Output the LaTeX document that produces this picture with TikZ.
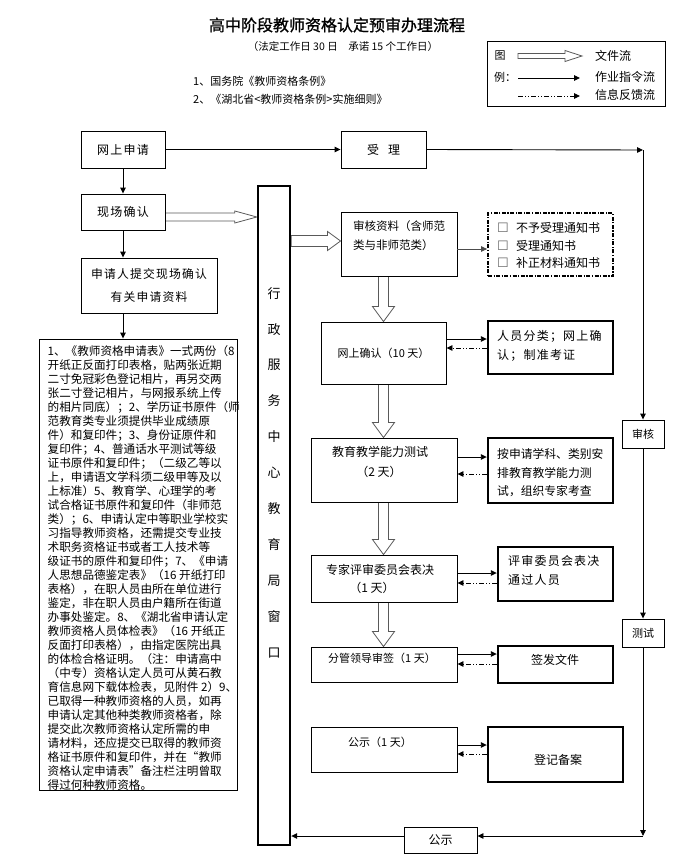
\documentclass[tikz,border=0pt]{standalone}
\usepackage{fontspec}
\setmainfont{Noto Sans CJK SC}
\newfontfamily\titlefont[FakeBold=1.2]{Noto Sans CJK SC}
\newfontfamily\spaced[LetterSpace=10]{Noto Sans CJK SC}
\newfontfamily\dejavu{DejaVu Sans}
\usetikzlibrary{arrows.meta,calc}
\pgfdeclarelayer{bg}
\pgfsetlayers{bg,main}
\newcommand\fs[1]{\fontsize{#1}{#1}\selectfont}
% hollow arrow pointing right: start, end, shaft half, head half, head length
\newcommand\harr[5]{\begin{pgfonlayer}{bg}\draw[hol] let \p1=#1, \p2=#2 in (\x1,\y1+#3) -- (\x2-#5,\y1+#3) -- (\x2-#5,\y1+#4) -- (\x2,\y1) -- (\x2-#5,\y1-#4) -- (\x2-#5,\y1-#3) -- (\x1,\y1-#3) -- cycle;\end{pgfonlayer}}
% hollow arrow pointing down
\newcommand\varr[5]{\begin{pgfonlayer}{bg}\draw[hol] let \p1=#1, \p2=#2 in (\x1-#3,\y1) -- (\x1-#3,\y2+#5) -- (\x1-#4,\y2+#5) -- (\x1,\y2) -- (\x1+#4,\y2+#5) -- (\x1+#3,\y2+#5) -- (\x1+#3,\y1) -- cycle;\end{pgfonlayer}}
\tikzset{
  box/.style={draw, line width=0.9pt, inner sep=0pt, align=center},
  tbox/.style={draw, line width=2.4pt, inner sep=0pt, align=center},
  arr/.style={line width=0.9pt, -{Triangle[length=6pt,width=5.5pt]}},
  fb/.style={line width=0.9pt, dash pattern=on 5pt off 2pt on 1pt off 2pt on 1pt off 2pt, -{Triangle[length=6pt,width=5.5pt]}},
  hol/.style={draw=black!65, fill=white, line width=0.8pt, line join=miter},
  lbl/.style={inner sep=0pt},
}
\begin{document}
\begin{tikzpicture}[x=1pt,y=-1pt]
\useasboundingbox (0,0) rectangle (685,862);
% titles
\node[lbl, font=\titlefont\fs{16}] (title) at (337,25) {高中阶段教师资格认定预审办理流程};
\node[lbl, font=\fs{10.5}] (sub) at (343,47) {（法定工作日 30 日\quad 承诺 15 个工作日）};
\node[lbl, anchor=west, font=\fs{11}] (ref1) at (193,81) {1、国务院《教师资格条例》};
\node[lbl, anchor=west, font=\fs{11}] (ref2) at (193,99) {2、《湖北省<教师资格条例>实施细则》};
% legend
\node[draw, line width=0.9pt, minimum width=178pt, minimum height=65pt, inner sep=0pt] (legend) at (576,73.5) {};
\node[lbl, font=\fs{11}] (lg1) at (500,56) {图};
\node[lbl, anchor=west, font=\fs{11}] (lg2) at (494,77) {例：};
\coordinate (l1a) at (518,56); \coordinate (l1b) at (582,56);
\harr{(l1a)}{(l1b)}{2.5pt}{5.5pt}{17pt}
\node[lbl, anchor=west, font=\fs{12}] (lt1) at (595,56) {文件流};
\coordinate (l2a) at (518,78); \coordinate (l2b) at (580,78);
\draw[arr] (l2a) -- (l2b);
\node[lbl, anchor=west, font=\fs{12}] (lt2) at (595,77) {作业指令流};
\coordinate (l3a) at (518,96); \coordinate (l3b) at (580,96);
\draw[fb] (l3a) -- (l3b);
\node[lbl, anchor=west, font=\fs{12}] (lt3) at (595,95) {信息反馈流};
% left column
\node[box, minimum width=84pt, minimum height=37pt, font=\spaced\fs{12}] (web) at (123,149.5) {网上申请};
\node[box, minimum width=85pt, minimum height=37pt, font=\fs{12}] (accept) at (383.5,149.5) {受\hspace{9pt}理};
\node[box, minimum width=84pt, minimum height=36pt, font=\spaced\fs{12}] (site) at (123,212) {现场确认};
\node[box, minimum width=136pt, minimum height=55pt, font=\spaced\fontsize{11.8}{23}\selectfont] (submit) at (149,285.5) {申请人提交现场确认\\有关申请资料};
\node[box, minimum width=198pt, minimum height=451pt] (big) at (138,564.5) {};
\node[lbl, anchor=north west, align=left, font=\fontsize{11.6}{14}\selectfont] (bigtext) at (47.5,345) {1、《教师资格申请表》一式两份（8\\开纸正反面打印表格，贴两张近期\\二寸免冠彩色登记相片，再另交两\\张二寸登记相片，与网报系统上传\\的相片同底）；2、学历证书原件（师\\范教育类专业须提供毕业成绩原\\件）和复印件；3、身份证原件和\\复印件；4、普通话水平测试等级\\证书原件和复印件；（二级乙等以\\上，申请语文学科须二级甲等及以\\上标准）5、教育学、心理学的考\\试合格证书原件和复印件（非师范\\类）；6、申请认定中等职业学校实\\习指导教师资格，还需提交专业技\\术职务资格证书或者工人技术等\\级证书的原件和复印件；7、《申请\\人思想品德鉴定表》（16 开纸打印\\表格），在职人员由所在单位进行\\鉴定，非在职人员由户籍所在街道\\办事处鉴定。8、《湖北省申请认定\\教师资格人员体检表》（16 开纸正\\反面打印表格），由指定医院出具\\的体检合格证明。（注：申请高中\\（中专）资格认定人员可从黄石教\\育信息网下载体检表，见附件 2）9、\\已取得一种教师资格的人员，如再\\申请认定其他种类教师资格者，除\\提交此次教师资格认定所需的申\\请材料，还应提交已取得的教师资\\格证书原件和复印件，并在“教师\\资格认定申请表”备注栏注明曾取\\得过何种教师资格。};
% service column
\node[draw, line width=2.4pt, minimum width=32pt, minimum height=659pt, inner sep=0pt] (col) at (274,515.5) {};
\node[lbl, align=center, font=\fontsize{13}{35.9}\selectfont] (coltext) at (274,472.5) {行\\政\\服\\务\\中\\心\\教\\育\\局\\窗\\口};
% middle column
\node[box, minimum width=116pt, minimum height=64pt] (review) at (399,244) {};
\node[lbl, anchor=west, font=\fs{11.5}] (rv1) at (353,226) {审核资料（含师范};
\node[lbl, anchor=west, font=\fs{11.5}] (rv2) at (353,245) {类与非师范类）};
\node[box, minimum width=125pt, minimum height=62pt, font=\fs{11}] (online) at (383.5,353) {网上确认（10 天）};
\node[box, minimum width=146pt, minimum height=64pt] (test) at (384,470) {};
\node[lbl, font=\fs{12}] (ts1) at (380,452) {教育教学能力测试};
\node[lbl, font=\fs{12}] (ts2) at (379,472) {（2 天）};
\node[box, minimum width=146pt, minimum height=47pt] (expert) at (384,578.5) {};
\node[lbl, font=\fs{12}] (ex1) at (380,570) {专家评审委员会表决};
\node[lbl, font=\fs{12}] (ex2) at (372,588) {（1 天）};
\node[box, minimum width=146pt, minimum height=35pt] (sign) at (384,664.5) {};
\node[lbl, font=\fs{11}] (sg1) at (382,658) {分管领导审签（1 天）};
\node[box, minimum width=146pt, minimum height=45pt] (pub1) at (384,749.5) {};
\node[lbl, font=\fs{11}] (pb1) at (380,742) {公示（1 天）};
% right boxes
\node[draw, line width=1.8pt, dash pattern=on 4pt off 1.5pt on 1.2pt off 1.5pt, minimum width=125pt, minimum height=63pt, inner sep=0pt] (notice) at (550.5,244.5) {};
\node[lbl, font=\dejavu\fs{13}, text=black!60] (cb1) at (503,228) {☐};
\node[lbl, font=\dejavu\fs{13}, text=black!60] (cb2) at (503,245.5) {☐};
\node[lbl, font=\dejavu\fs{13}, text=black!60] (cb3) at (503,263) {☐};
\node[lbl, anchor=west, font=\fs{12}] (nt1) at (516,228) {不予受理通知书};
\node[lbl, anchor=west, font=\fs{12}] (nt2) at (516,245.5) {受理通知书};
\node[lbl, anchor=west, font=\fs{12}] (nt3) at (516,263) {补正材料通知书};
\node[tbox, minimum width=125pt, minimum height=53pt] (classify) at (550.5,347.5) {};
\node[lbl, anchor=west, font=\spaced\fs{12}] (cl1) at (497,336) {人员分类；网上确};
\node[lbl, anchor=west, font=\spaced\fs{12}] (cl2) at (497,355) {认；制准考证};
\node[tbox, minimum width=125pt, minimum height=65pt] (arrange) at (550.5,470.5) {};
\node[lbl, anchor=west, font=\fs{11.8}] (ar1) at (497,454) {按申请学科、类别安};
\node[lbl, anchor=west, font=\fs{11.8}] (ar2) at (497,473) {排教育教学能力测};
\node[lbl, anchor=west, font=\fs{11.8}] (ar3) at (497,491) {试，组织专家考查};
\node[tbox, minimum width=115pt, minimum height=54pt] (passed) at (555.5,574) {};
\node[lbl, anchor=west, font=\spaced\fs{12}] (ps1) at (508,561) {评审委员会表决};
\node[lbl, anchor=west, font=\spaced\fs{12}] (ps2) at (508,580) {通过人员};
\node[tbox, minimum width=115pt, minimum height=37pt] (issue) at (555.5,664.5) {};
\node[lbl, font=\fs{12}] (is1) at (555,660) {签发文件};
\node[tbox, minimum width=135pt, minimum height=55pt] (record) at (555.5,754.5) {};
\node[lbl, font=\fs{12}] (rc1) at (558,760) {登记备案};
% far right
\node[box, minimum width=42pt, minimum height=28pt, font=\fs{11}] (check) at (643,434) {审核};
\node[box, minimum width=42pt, minimum height=28pt, font=\fs{11}] (test2) at (643,633) {测试};
\node[box, minimum width=73pt, minimum height=26pt, font=\fs{12}] (pub2) at (440.5,840) {公示};
\coordinate (c1) at (643,150);
\coordinate (c2) at (643,836);
% connectors
\draw[arr] (web) -- (accept);
\draw[arr] (accept.east) -- (c1);
\draw[arr] (c1) -- (check.north);
\draw[arr] (check) -- (test2);
\draw[arr] (test2.south) -- (c2);
\draw[arr] (c2) -- (pub2.east |- c2);
\draw[arr] (pub2.west |- c2) -- (col.east |- c2);
\draw[arr] (web) -- (site);
\draw[arr] (site) -- (site |- submit.north);
\draw[arr] (site.south |- submit.south) -- (site.south |- big.north);
\harr{($(site.east)+(0,5)$)}{($(col.west |- site.east)+(0,5)$)}{4pt}{6pt}{22pt}
\harr{($(col.east |- review.west)+(0,-3)$)}{($(review.west)+(0,-3)$)}{5.5pt}{9.5pt}{13pt}
\draw[arr, draw=black!70] ($(review.east)+(0,5)$) -- ($(notice.west |- review.east)+(0,5)$);
\varr{(online.north |- review.south)}{(online.north)}{5pt}{11pt}{15pt}
\varr{(online.south)}{(online.south |- test.north)}{5pt}{11pt}{15pt}
\varr{(online.south |- test.south)}{(online.south |- expert.north)}{5pt}{11pt}{15pt}
\varr{(online.south |- expert.south)}{(online.south |- sign.north)}{5pt}{11pt}{15pt}
\draw[arr] ($(online.east)+(0,-14)$) -- ($(classify.west |- online.east)+(0,-14)$);
\draw[fb] ($(classify.west |- online.east)+(0,-5)$) -- ($(online.east)+(0,-5)$);
\draw[arr] ($(test.east)+(0,-13)$) -- ($(arrange.west |- test.east)+(0,-13)$);
\draw[fb] ($(arrange.west |- test.east)+(0,4)$) -- ($(test.east)+(0,4)$);
\draw[arr] ($(expert.east)+(0,-5.5)$) -- ($(passed.west |- expert.east)+(0,-5.5)$);
\draw[fb] ($(passed.west |- expert.east)+(0,4.5)$) -- ($(expert.east)+(0,4.5)$);
\draw[arr] ($(sign.east)+(0,-10.5)$) -- ($(issue.west |- sign.east)+(0,-10.5)$);
\draw[fb] ($(issue.west |- sign.east)+(0,-0.5)$) -- ($(sign.east)+(0,-0.5)$);
\draw[arr] ($(pub1.east)+(0,-4.5)$) -- ($(record.west |- pub1.east)+(0,-4.5)$);
\draw[fb] ($(record.west |- pub1.east)+(0,4.5)$) -- ($(pub1.east)+(0,4.5)$);
\end{tikzpicture}
\end{document}
